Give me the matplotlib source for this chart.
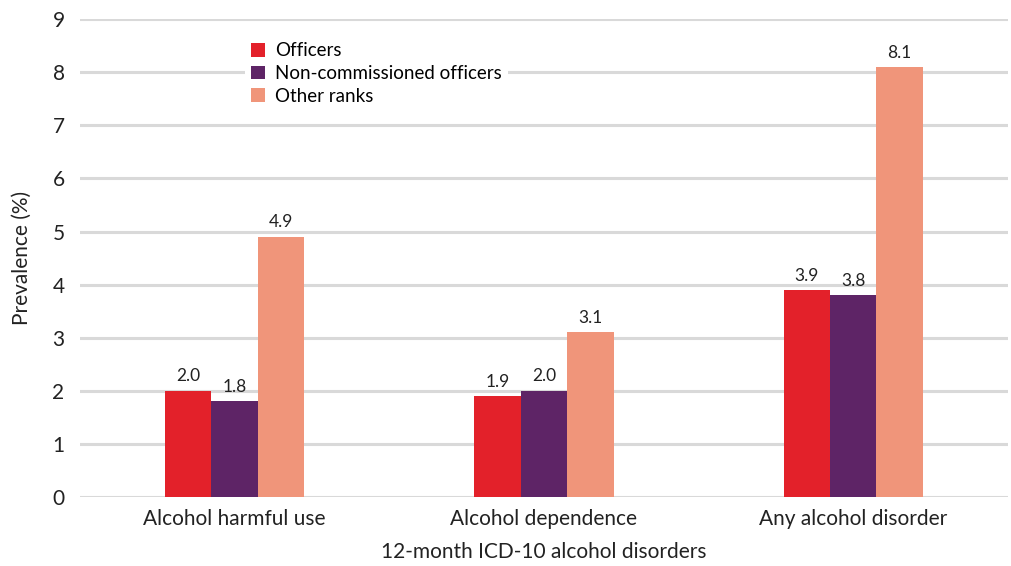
import matplotlib
matplotlib.use("Agg")
import matplotlib.pyplot as plt
import numpy as np

plt.rcParams.update({"font.family": ["Lato", "DejaVu Sans"]})

categories = ["Alcohol harmful use", "Alcohol dependence", "Any alcohol disorder"]
series = ["Officers", "Non-commissioned officers", "Other ranks"]
officers = [2.0, 1.9, 3.9]
nco = [1.8, 2.0, 3.8]
other_ranks = [4.9, 3.1, 8.1]
colors = ["#E3212A", "#5E2466", "#F0957A"]

fig = plt.figure(figsize=(10.11, 5.66), dpi=100)
ax = fig.add_axes([0.079, 0.122, 0.918, 0.844])

x = np.arange(len(categories))
w = 0.15
for i, (vals, name, c) in enumerate(zip([officers, nco, other_ranks], series, colors)):
    pos = x + (i - 1) * w
    ax.bar(pos, vals, width=w, color=c, label=name, zorder=3)
    for px, v in zip(pos, vals):
        ax.text(px, v + 0.12, f"{v:.1f}", ha="center", va="bottom", fontsize=12.5,
                color="#222222", zorder=4)

ax.set_xlim(-0.5, 2.5)
ax.set_ylim(0, 9)
ax.set_yticks(range(10))
ax.yaxis.grid(True, color="#D9D9D9", linewidth=2.2, zorder=0)
ax.set_axisbelow(True)
for s in ax.spines.values():
    s.set_visible(False)
ax.tick_params(axis="both", length=0, labelsize=15, colors="#222222")
ax.tick_params(axis="y", pad=11)
ax.tick_params(axis="x", pad=9)
ax.set_xticks(x)
ax.set_xticklabels(categories, fontsize=15)
ax.set_xlabel("12-month ICD-10 alcohol disorders", fontsize=15, color="#222222", labelpad=9)
ax.set_ylabel("Prevalence (%)", fontsize=15, color="#222222", labelpad=15)

leg = ax.legend(loc="upper left", bbox_to_anchor=(0.168, 0.983), fontsize=13.5,
                frameon=True, facecolor="white", edgecolor="white", framealpha=1,
                handlelength=0.75, handleheight=0.75, handletextpad=0.55,
                labelspacing=0.3, borderpad=0.3)
leg.get_frame().set_linewidth(0)
leg.set_zorder(5)

fig.savefig("out.png", dpi=100)
